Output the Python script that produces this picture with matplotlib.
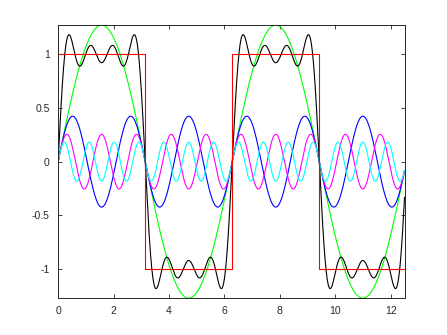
import numpy as np
import matplotlib.pyplot as plt

# square wave and its first four Fourier terms (amplitudes)
harmonics = [1, 3, 5, 7]
amplitudes = [1.273, 0.424, 0.255, 0.182]
term_colors = ["#00ff00", "#0000ff", "#ff00ff", "#00ffff"]
square_edges = [0, 3.1416, 6.2832, 9.4248, 12.5]
square_levels = [1, -1, 1, -1]
x_ticks = [0, 2, 4, 6, 8, 10, 12]
y_ticks = [-1, -0.5, 0, 0.5, 1]
y_labels = ["-1", "-0.5", "0", "0.5", "1"]

plt.rcParams["font.family"] = ["Liberation Sans", "DejaVu Sans"]
fig = plt.figure(figsize=(4.47, 3.35), dpi=100)
ax = fig.add_axes([0.13, 0.11, 0.775, 0.815])

x = np.linspace(0, square_edges[-1], 1500)
total = np.zeros_like(x)
for n, a, c in zip(harmonics, amplitudes, term_colors):
    y = a * np.sin(n * x)
    total += y
    ax.plot(x, y, color=c, lw=0.8)
ax.plot(x, total, color="k", lw=0.8)

# red square wave
sx, sy = [], []
for i, lvl in enumerate(square_levels):
    sx += [square_edges[i], square_edges[i + 1]]
    sy += [lvl, lvl]
ax.plot(sx, sy, color="#ff0000", lw=0.8)

ax.set_xlim(0, square_edges[-1])
ax.set_ylim(-amplitudes[0], amplitudes[0])
ax.set_xticks(x_ticks)
ax.set_yticks(y_ticks)
ax.set_yticklabels(y_labels)
ax.tick_params(direction="in", length=3, width=0.6, labelsize=7.5, colors="#262626",
               top=True, right=True, pad=6)
for s in ax.spines.values():
    s.set_linewidth(0.7)
    s.set_color("#262626")

fig.savefig("out.png", dpi=100)
